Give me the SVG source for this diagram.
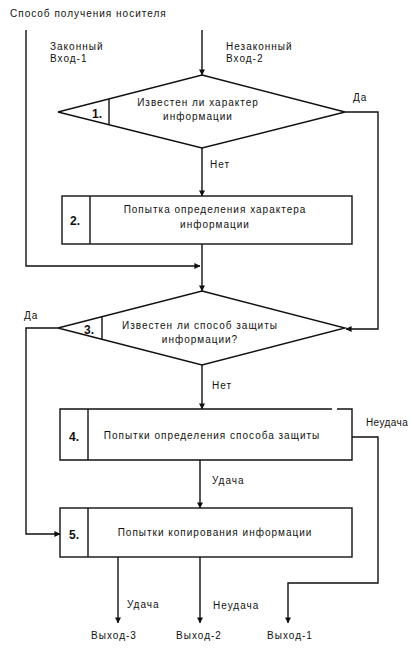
<svg xmlns="http://www.w3.org/2000/svg" width="412" height="650" viewBox="0 0 412 650">
<style>
text{font-family:"Liberation Sans",Arial,sans-serif;font-size:10px;fill:#111;letter-spacing:1px}
.c{text-anchor:middle}
.t{letter-spacing:0.4px}
.n{font-size:12px;font-weight:bold;letter-spacing:0}
.s{fill:#fff;stroke:#111;stroke-width:1.4}
.l{fill:none;stroke:#111;stroke-width:1.4}
.w{fill:none;stroke:#111;stroke-width:1.4;marker-end:url(#a)}
</style>
<defs>
<marker id="a" viewBox="0 0 8 8" refX="7.5" refY="4" markerWidth="6" markerHeight="6" markerUnits="userSpaceOnUse" orient="auto"><path d="M0,0 L8,4 L0,8 Z" fill="#111"/></marker>
</defs>
<rect width="412" height="650" fill="#fff"/>
<text x="10" y="17">Способ получения носителя</text>
<text x="50" y="50">Законный</text>
<text x="50" y="62">Вход-1</text>
<text x="226" y="50">Незаконный</text>
<text x="226" y="62">Вход-2</text>
<g id="connectors">
<path class="w" d="M202,30 V75"/>
<path class="w" d="M26,30 V266 H200"/>
<path class="w" d="M202,148 V196"/>
<path class="w" d="M202,244 V291"/>
<path class="w" d="M345,112 H378 V329 H346"/>
<path class="w" d="M58,328 H26 V534 H60"/>
<path class="w" d="M202,365 V409"/>
<path class="w" d="M200,460 V508"/>
<path class="w" d="M352,437 H378 V583 H288 V623"/>
<path class="w" d="M118,557 V623"/>
<path class="w" d="M200,557 V623"/>
</g>
<g id="labels">
<text x="353" y="101">Да</text>
<text x="210" y="168">Нет</text>
<text x="24" y="319">Да</text>
<text x="212" y="389">Нет</text>
<text class="t" x="366" y="426">Неудача</text>
<text x="212" y="484">Удача</text>
<text x="127" y="608">Удача</text>
<text x="213" y="609">Неудача</text>
<text class="c" x="114" y="639">Выход-3</text>
<text class="c" x="199" y="639">Выход-2</text>
<text class="c" x="290" y="639">Выход-1</text>
</g>
<g id="node1">
<polygon class="s" points="202,75 345,112 202,148 58,112"/>
<line class="l" x1="109" y1="99" x2="109" y2="125"/>
<text class="n" x="92" y="118">1.</text>
<text class="c" x="198" y="106">Известен ли характер</text>
<text class="c" x="198" y="120">информации</text>
</g>
<g id="node2">
<rect class="s" x="62" y="196" width="290" height="48"/>
<line class="l" x1="90" y1="196" x2="90" y2="244"/>
<text class="n" x="70" y="225">2.</text>
<text class="c" x="215" y="213">Попытка определения характера</text>
<text class="c" x="215" y="228">информации</text>
</g>
<g id="node3">
<polygon class="s" points="202,291 345,328 202,365 58,328"/>
<line class="l" x1="102" y1="316" x2="102" y2="340"/>
<text class="n" x="84" y="334">3.</text>
<text class="c" x="200" y="329">Известен ли способ защиты</text>
<text class="c" x="200" y="343">информации?</text>
</g>
<g id="node4">
<path class="l" d="M332,409 H60 V460 H352 V409 H337" fill="#fff"/>
<line class="l" x1="88" y1="409" x2="88" y2="460"/>
<text class="n" x="69" y="441">4.</text>
<text class="c" x="212" y="439">Попытки определения способа защиты</text>
</g>
<g id="node5">
<rect class="s" x="60" y="508" width="292" height="49"/>
<line class="l" x1="88" y1="508" x2="88" y2="557"/>
<text class="n" x="69" y="539">5.</text>
<text class="c" x="215" y="536">Попытки копирования информации</text>
</g>
</svg>
